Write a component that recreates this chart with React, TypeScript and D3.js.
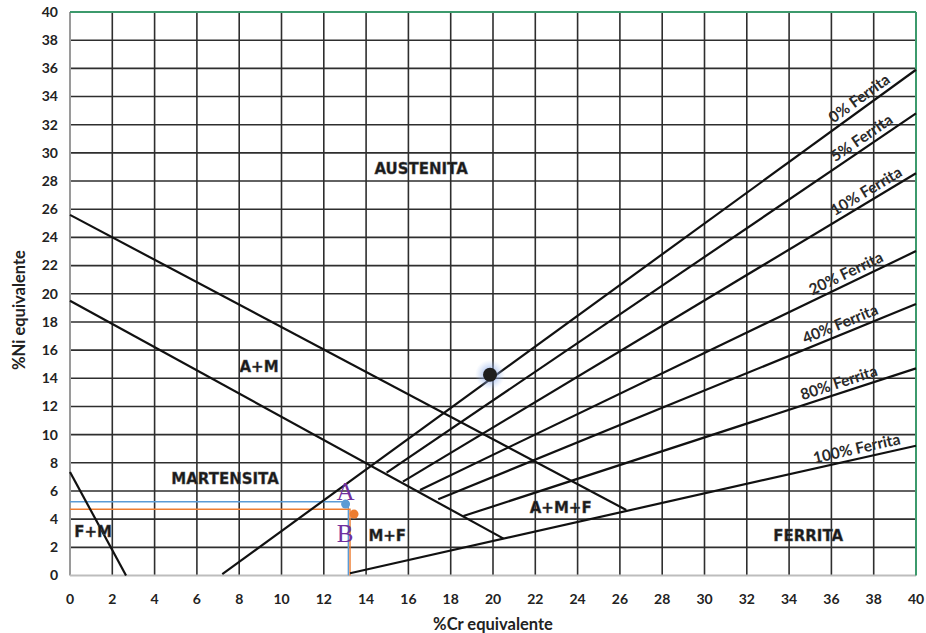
import React, { useRef, useEffect } from 'react';
import * as d3 from 'd3';

type Pt = [number, number];

const xTicks = [0, 2, 4, 6, 8, 10, 12, 14, 16, 18, 20, 22, 24, 26, 28, 30, 32, 34, 36, 38, 40];
const yTicks = [0, 2, 4, 6, 8, 10, 12, 14, 16, 18, 20, 22, 24, 26, 28, 30, 32, 34, 36, 38, 40];

// phase boundaries (Cr eq, Ni eq)
const boundaryLines: Pt[][] = [
  [[0, 25.6], [26.3, 4.65]],
  [[0, 19.5], [20.5, 2.62]],
  [[0, 7.35], [2.65, 0]],
];

const ferriteNames = ['0% Ferrita', '5% Ferrita', '10% Ferrita', '20% Ferrita', '40% Ferrita', '80% Ferrita', '100% Ferrita'];
const ferriteStarts: Pt[] = [[7.2, 0.1], [14.97, 7.3], [15.74, 6.66], [16.55, 6.07], [17.41, 5.41], [18.6, 4.22], [13.24, 0.16]];
const ferriteEnds: Pt[] = [[40, 35.9], [40, 32.8], [40, 28.55], [40, 23.03], [40, 19.27], [40, 14.7], [40, 9.21]];
const ferriteLabelX = [37.6, 37.7, 37.9, 36.9, 36.6, 36.5, 37.3];

const regionNames = ['AUSTENITA', 'A+M', 'MARTENSITA', 'F+M', 'M+F', 'A+M+F', 'FERRITA'];
const regionPos: Pt[] = [[16.6, 28.9], [8.94, 14.8], [7.33, 6.9], [1.09, 3.1], [15.0, 2.8], [23.2, 4.8], [34.9, 2.8]];

// sample points
const pointA: Pt = [13.03, 5.07];
const pointB: Pt = [13.43, 4.36];
const guideA: Pt = [13.16, 5.24];
const guideB: Pt = [13.24, 4.7];
const marker: Pt = [19.86, 14.25];

const W = 926;
const H = 633;
const m = { left: 70, right: 10, top: 12, bottom: 57.5 };

const App: React.FC = () => {
  const svgRef = useRef<SVGSVGElement | null>(null);

  useEffect(() => {
    const svg = d3.select(svgRef.current!);
    svg.selectAll('*').remove();

    const x = d3.scaleLinear().domain([0, 40]).range([m.left, W - m.right]);
    const y = d3.scaleLinear().domain([0, 40]).range([H - m.bottom, m.top]);
    const line = d3.line<Pt>().x((d) => x(d[0])).y((d) => y(d[1]));

    const defs = svg.append('defs');
    const glow = defs.append('radialGradient').attr('id', 'glow');
    glow.append('stop').attr('offset', '0%').attr('stop-color', '#6f8fe0').attr('stop-opacity', 0.9);
    glow.append('stop').attr('offset', '100%').attr('stop-color', '#a8c4f0').attr('stop-opacity', 0);

    svg.append('rect').attr('width', W).attr('height', H).attr('fill', '#fff');

    // grid
    const grid = svg.append('g').attr('stroke', '#2e2e2e').attr('stroke-width', 1.6);
    grid.selectAll('line.v')
      .data(xTicks.slice(1, -1))
      .enter()
      .append('line')
      .attr('x1', (d) => x(d)).attr('x2', (d) => x(d))
      .attr('y1', y(0)).attr('y2', y(40));
    grid.selectAll('line.h')
      .data(yTicks.slice(1, -1))
      .enter()
      .append('line')
      .attr('y1', (d) => y(d)).attr('y2', (d) => y(d))
      .attr('x1', x(0)).attr('x2', x(40));

    // frame
    svg.append('line').attr('x1', x(0)).attr('x2', x(0)).attr('y1', y(0)).attr('y2', y(40))
      .attr('stroke', '#9a9a9a').attr('stroke-width', 2);
    svg.append('line').attr('x1', x(0)).attr('x2', x(40)).attr('y1', y(0)).attr('y2', y(0))
      .attr('stroke', '#bdbdbd').attr('stroke-width', 2);
    svg.append('line').attr('x1', x(0)).attr('x2', x(40)).attr('y1', y(40)).attr('y2', y(40))
      .attr('stroke', '#3c9a6c').attr('stroke-width', 2);
    svg.append('line').attr('x1', x(40)).attr('x2', x(40)).attr('y1', y(0)).attr('y2', y(40))
      .attr('stroke', '#3c9a6c').attr('stroke-width', 2);

    // tick labels
    svg.append('g').selectAll('text')
      .data(yTicks)
      .enter()
      .append('text')
      .attr('x', x(0) - 12)
      .attr('y', (d) => y(d))
      .attr('dy', '0.35em')
      .attr('text-anchor', 'end')
      .attr('font-family', 'Lato, sans-serif')
      .attr('font-weight', 'bold')
      .attr('font-size', 14)
      .attr('fill', '#222')
      .text((d) => d);
    svg.append('g').selectAll('text')
      .data(xTicks)
      .enter()
      .append('text')
      .attr('x', (d) => x(d))
      .attr('y', y(0) + 28)
      .attr('text-anchor', 'middle')
      .attr('font-family', 'Lato, sans-serif')
      .attr('font-weight', 'bold')
      .attr('font-size', 14)
      .attr('fill', '#222')
      .text((d) => d);

    // axis titles
    svg.append('text')
      .attr('x', 493).attr('y', 630)
      .attr('text-anchor', 'middle')
      .attr('font-family', 'Lato, sans-serif')
      .attr('font-weight', 'bold')
      .attr('font-size', 16.5)
      .attr('fill', '#222')
      .text('%Cr equivalente');
    svg.append('text')
      .attr('transform', 'translate(25,310) rotate(-90)')
      .attr('text-anchor', 'middle')
      .attr('font-family', 'Lato, sans-serif')
      .attr('font-weight', 'bold')
      .attr('font-size', 16.5)
      .attr('fill', '#222')
      .text('%Ni equivalente');

    // guide lines for A and B
    svg.append('path')
      .datum([[0, guideA[1]], guideA, [guideA[0], 0]] as Pt[])
      .attr('d', line).attr('fill', 'none').attr('stroke', '#5b9bd5').attr('stroke-width', 1.4);
    svg.append('path')
      .datum([[0, guideB[1]], guideB, [guideB[0], 0]] as Pt[])
      .attr('d', line).attr('fill', 'none').attr('stroke', '#ed7d31').attr('stroke-width', 1.4);

    // boundaries
    svg.append('g').selectAll('path')
      .data(boundaryLines)
      .enter()
      .append('path')
      .attr('d', line)
      .attr('fill', 'none')
      .attr('stroke', '#111')
      .attr('stroke-width', 2.2);

    const ferrite = ferriteNames.map((name, i) => ({ name, pts: [ferriteStarts[i], ferriteEnds[i]] as Pt[], lx: ferriteLabelX[i] }));
    svg.append('g').selectAll('path')
      .data(ferrite)
      .enter()
      .append('path')
      .attr('d', (d) => line(d.pts))
      .attr('fill', 'none')
      .attr('stroke', '#111')
      .attr('stroke-width', 2.2);

    svg.append('g').selectAll('text')
      .data(ferrite)
      .enter()
      .append('text')
      .attr('transform', (d) => {
        const [p0, p1] = d.pts;
        const t = (d.lx - p0[0]) / (p1[0] - p0[0]);
        const ly = p0[1] + t * (p1[1] - p0[1]);
        const ang = (Math.atan2(y(p1[1]) - y(p0[1]), x(p1[0]) - x(p0[0])) * 180) / Math.PI;
        return `translate(${x(d.lx)},${y(ly)}) rotate(${ang})`;
      })
      .attr('dy', -5)
      .attr('text-anchor', 'middle')
      .attr('font-family', 'Lato, sans-serif')
      .attr('font-weight', 'bold')
      .attr('font-size', 15.5)
      .attr('fill', '#2a2a2a')
      .text((d) => d.name);

    // region labels
    svg.append('g').selectAll('text')
      .data(regionNames)
      .enter()
      .append('text')
      .attr('x', (d, i) => x(regionPos[i][0]))
      .attr('y', (d, i) => y(regionPos[i][1]))
      .attr('dy', '0.35em')
      .attr('text-anchor', 'middle')
      .attr('font-family', 'DejaVu Sans, sans-serif')
      .attr('font-weight', 'bold')
      .attr('font-size', 15)
      .attr('fill', '#1a1a1a')
      .attr('stroke', '#555')
      .attr('stroke-width', 0.4)
      .text((d) => d);

    // marker with glow
    svg.append('circle').attr('cx', x(marker[0])).attr('cy', y(marker[1])).attr('r', 15).attr('fill', 'url(#glow)');
    svg.append('circle').attr('cx', x(marker[0])).attr('cy', y(marker[1])).attr('r', 7).attr('fill', '#1e1e1e');

    // A, B points
    svg.append('circle').attr('cx', x(pointA[0])).attr('cy', y(pointA[1])).attr('r', 4.5).attr('fill', '#5b9bd5');
    svg.append('circle').attr('cx', x(pointB[0])).attr('cy', y(pointB[1])).attr('r', 4.5).attr('fill', '#ed7d31');
    svg.append('text').attr('x', x(pointA[0])).attr('y', y(pointA[1]) - 4)
      .attr('text-anchor', 'middle').attr('font-family', 'Liberation Serif, serif').attr('font-size', 25)
      .attr('fill', '#7030a0').text('A');
    svg.append('text').attr('x', x(pointB[0]) - 9).attr('y', y(pointB[1]) + 28)
      .attr('text-anchor', 'middle').attr('font-family', 'Liberation Serif, serif').attr('font-size', 25)
      .attr('fill', '#7030a0').text('B');
  }, []);

  return <svg ref={svgRef} width={W} height={H} style={{ position: 'absolute', left: 0, top: 0 }}></svg>;
};

export default App;
